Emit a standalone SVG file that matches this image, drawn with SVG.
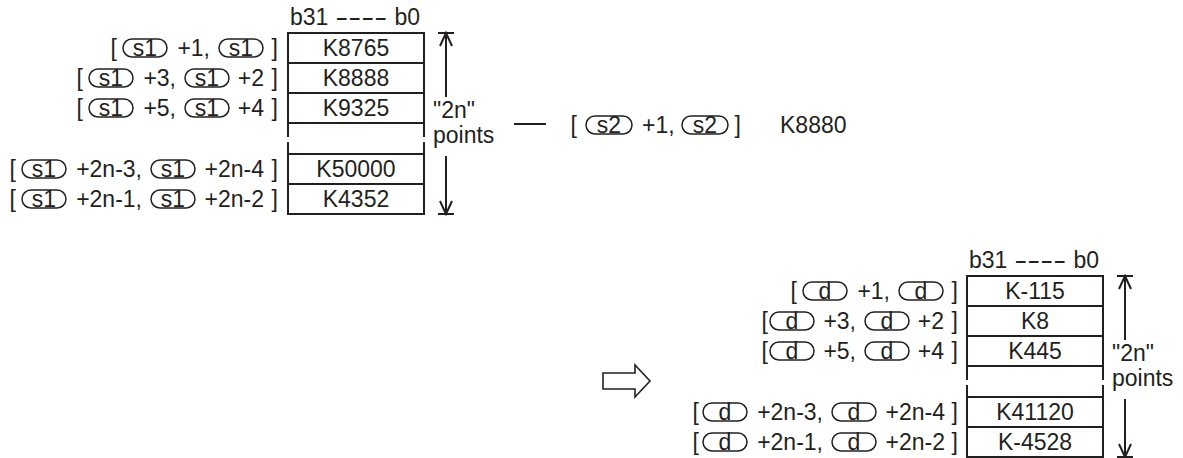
<svg xmlns="http://www.w3.org/2000/svg" width="1183" height="458" viewBox="0 0 1183 458">
<style>
.t{font-family:"Liberation Sans",Arial,sans-serif;font-size:23px;fill:#231f20}
.m{text-anchor:middle}
.e{text-anchor:end}
.cap{fill:none;stroke:#231f20;stroke-width:1.5}
.ln{stroke:#231f20;stroke-width:2;fill:none}
</style>
<rect width="1183" height="458" fill="#ffffff"/>

<g id="table-s1">
  <text class="t" x="290" y="25">b31</text>
  <text class="t" x="197.2" y="25" transform="scale(1.7,1)">----</text>
  <text class="t e" x="420" y="25">b0</text>
  <rect class="ln" x="288" y="33" width="136" height="90"/>
  <line class="ln" x1="288" y1="63" x2="424" y2="63"/>
  <line class="ln" x1="288" y1="93" x2="424" y2="93"/>
  <rect class="ln" x="288" y="154" width="136" height="60"/>
  <line class="ln" x1="288" y1="184" x2="424" y2="184"/>
  <path class="ln" d="M288 123V137M288 142V154M424 123V137M424 142V154"/>
  <text class="t m" x="356" y="56">K8765</text>
  <text class="t m" x="356" y="86">K8888</text>
  <text class="t m" x="356" y="116">K9325</text>
  <text class="t m" x="356" y="177">K50000</text>
  <text class="t m" x="356" y="207">K4352</text>
  <path class="ln" d="M438 33H454M446 33V97M440 46L446 33L452 46M446 156V214M440 201L446 214L452 201M438 214H454"/>
  <text class="t" x="433" y="118">"2n"</text>
  <text class="t" x="433" y="143">points</text>
</g>

<g id="labels-s1">
  <text class="t e" x="117" y="56">[</text>
  <rect class="cap" x="123" y="39" width="44" height="18" rx="9"/>
  <text class="t m" x="145" y="56">s1</text>
  <text class="t e" x="210" y="56">+1,</text>
  <rect class="cap" x="219" y="39" width="44" height="18" rx="9"/>
  <text class="t m" x="241" y="56">s1</text>
  <text class="t e" x="278" y="56">]</text>

  <text class="t e" x="83" y="86">[</text>
  <rect class="cap" x="89" y="69" width="44" height="18" rx="9"/>
  <text class="t m" x="111" y="86">s1</text>
  <text class="t e" x="176" y="86">+3,</text>
  <rect class="cap" x="185" y="69" width="44" height="18" rx="9"/>
  <text class="t m" x="207" y="86">s1</text>
  <text class="t e" x="264" y="86">+2</text>
  <text class="t e" x="278" y="86">]</text>

  <text class="t e" x="83" y="116">[</text>
  <rect class="cap" x="89" y="99" width="44" height="18" rx="9"/>
  <text class="t m" x="111" y="116">s1</text>
  <text class="t e" x="176" y="116">+5,</text>
  <rect class="cap" x="185" y="99" width="44" height="18" rx="9"/>
  <text class="t m" x="207" y="116">s1</text>
  <text class="t e" x="264" y="116">+4</text>
  <text class="t e" x="278" y="116">]</text>

  <text class="t e" x="16" y="177">[</text>
  <rect class="cap" x="22" y="160" width="44" height="18" rx="9"/>
  <text class="t m" x="44" y="177">s1</text>
  <text class="t e" x="142" y="177">+2n-3,</text>
  <rect class="cap" x="151" y="160" width="44" height="18" rx="9"/>
  <text class="t m" x="173" y="177">s1</text>
  <text class="t e" x="264" y="177">+2n-4</text>
  <text class="t e" x="278" y="177">]</text>

  <text class="t e" x="16" y="207">[</text>
  <rect class="cap" x="22" y="190" width="44" height="18" rx="9"/>
  <text class="t m" x="44" y="207">s1</text>
  <text class="t e" x="142" y="207">+2n-1,</text>
  <rect class="cap" x="151" y="190" width="44" height="18" rx="9"/>
  <text class="t m" x="173" y="207">s1</text>
  <text class="t e" x="264" y="207">+2n-2</text>
  <text class="t e" x="278" y="207">]</text>
</g>

<g id="operand-s2">
  <text class="t e" x="577" y="133">[</text>
  <rect class="cap" x="586" y="116" width="46" height="18" rx="9"/>
  <text class="t m" x="609" y="133">s2</text>
  <text class="t" x="642" y="133">+1,</text>
  <rect class="cap" x="682" y="116" width="46" height="18" rx="9"/>
  <text class="t m" x="705" y="133">s2</text>
  <text class="t e" x="741" y="133">]</text>
  <text class="t" x="780" y="133">K8880</text>
</g>

<g id="table-d" transform="translate(679,243)">
  <text class="t" x="290" y="25">b31</text>
  <text class="t" x="197.2" y="25" transform="scale(1.7,1)">----</text>
  <text class="t e" x="420" y="25">b0</text>
  <rect class="ln" x="288" y="33" width="136" height="90"/>
  <line class="ln" x1="288" y1="63" x2="424" y2="63"/>
  <line class="ln" x1="288" y1="93" x2="424" y2="93"/>
  <rect class="ln" x="288" y="154" width="136" height="60"/>
  <line class="ln" x1="288" y1="184" x2="424" y2="184"/>
  <path class="ln" d="M288 123V137M288 142V154M424 123V137M424 142V154"/>
  <text class="t m" x="356" y="56">K-115</text>
  <text class="t m" x="356" y="86">K8</text>
  <text class="t m" x="356" y="116">K445</text>
  <text class="t m" x="356" y="177">K41120</text>
  <text class="t m" x="356" y="207">K-4528</text>
  <path class="ln" d="M438 33H454M446 33V97M440 46L446 33L452 46M446 156V214M440 201L446 214L452 201M438 214H454"/>
  <text class="t" x="433" y="118">"2n"</text>
  <text class="t" x="433" y="143">points</text>
</g>

<g id="labels-d">
  <text class="t e" x="797" y="299">[</text>
  <rect class="cap" x="803" y="282" width="44" height="18" rx="9"/>
  <text class="t m" x="825" y="299">d</text>
  <text class="t e" x="890" y="299">+1,</text>
  <rect class="cap" x="899" y="282" width="44" height="18" rx="9"/>
  <text class="t m" x="921" y="299">d</text>
  <text class="t e" x="958" y="299">]</text>

  <text class="t e" x="768" y="329">[</text>
  <rect class="cap" x="770" y="312" width="44" height="18" rx="9"/>
  <text class="t m" x="792" y="329">d</text>
  <text class="t e" x="856" y="329">+3,</text>
  <rect class="cap" x="865" y="312" width="44" height="18" rx="9"/>
  <text class="t m" x="887" y="329">d</text>
  <text class="t e" x="944" y="329">+2</text>
  <text class="t e" x="958" y="329">]</text>

  <text class="t e" x="768" y="359">[</text>
  <rect class="cap" x="770" y="342" width="44" height="18" rx="9"/>
  <text class="t m" x="792" y="359">d</text>
  <text class="t e" x="856" y="359">+5,</text>
  <rect class="cap" x="865" y="342" width="44" height="18" rx="9"/>
  <text class="t m" x="887" y="359">d</text>
  <text class="t e" x="944" y="359">+4</text>
  <text class="t e" x="958" y="359">]</text>

  <text class="t e" x="699" y="420">[</text>
  <rect class="cap" x="703" y="403" width="44" height="18" rx="9"/>
  <text class="t m" x="725" y="420">d</text>
  <text class="t e" x="823" y="420">+2n-3,</text>
  <rect class="cap" x="832" y="403" width="44" height="18" rx="9"/>
  <text class="t m" x="854" y="420">d</text>
  <text class="t e" x="945" y="420">+2n-4</text>
  <text class="t e" x="958" y="420">]</text>

  <text class="t e" x="699" y="450">[</text>
  <rect class="cap" x="703" y="433" width="44" height="18" rx="9"/>
  <text class="t m" x="725" y="450">d</text>
  <text class="t e" x="823" y="450">+2n-1,</text>
  <rect class="cap" x="832" y="433" width="44" height="18" rx="9"/>
  <text class="t m" x="854" y="450">d</text>
  <text class="t e" x="945" y="450">+2n-2</text>
  <text class="t e" x="958" y="450">]</text>
</g>

<g id="connectors">
  <line class="ln" x1="514" y1="124" x2="546" y2="124"/>
  <polygon points="603,373 635,373 635,365 650,381 635,397 635,389 603,389" fill="#ffffff" stroke="#231f20" stroke-width="1.6"/>
</g>
</svg>
